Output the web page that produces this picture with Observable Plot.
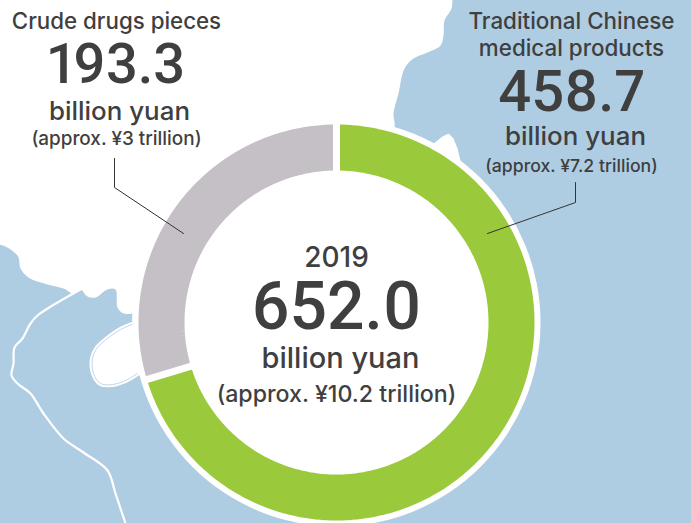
<!DOCTYPE html>
<html>
<head>
<meta charset="utf-8">
<style>html,body{margin:0;padding:0;background:#fff}svg{display:block}
.nums text{font-feature-settings:"pnum" 1;font-variant-numeric:proportional-nums}</style>
<script src="https://cdn.jsdelivr.net/npm/d3@7"></script>
<script src="https://cdn.jsdelivr.net/npm/@observablehq/plot@0.6"></script>
</head>
<body>
<script>
// Donut data
const sliceNames = ["Traditional Chinese medical products", "Crude drugs pieces"];
const sliceValues = [458.7, 193.3];
const sliceColors = ["#9aca3c", "#c5bfc6"];

// Map outline
const seaX = [452,452,451,444,443,440,427,413,404,398,393,394,336,140,132,132,132,123,117,115,107,95,87,80,73,63,47,28,20,17,-5,-5,-5,696,696,696,452];
const seaY = [-5,-5,8,20,35,45,52,58,68,93,113,127,322,373,330,313,313,313,307,289,289,297,296,289,293,288,284,277,268,255,245,528,528,528,-5,-5,-5];
const islandX = [433,442,448,453,457,460,440];
const islandY = [143,136,133,138,148,160,170];
const lakeX = [134,120,107,97,92,93,100,112,125,137];
const lakeY = [323,329,338,347,358,373,383,384,380,373];
const riverX = [80,37,30,22,14,13,11,17,30,43,63,83,107,115,125];
const riverY = [289,315,323,338,347,363,375,383,393,413,438,452,470,493,523];

// Leader lines
const leaderNames = ["a","a","a","b","b","b"];
const leaderX = [114,114,183,575,575,487];
const leaderY = [158,187,233,182,202,233];

// Text
const wordText = ["Crude drugs pieces","billion yuan","(approx. ¥3 trillion)",
  "Traditional Chinese","medical products","billion yuan","(approx. ¥7.2 trillion)",
  "2019","billion yuan","(approx. ¥10.2 trillion)"];
const wordX = [116,119,116,571,571,575,571,336,340,336];
const wordY = [28,119,144,28,55,144,171,266,367,401];
const wordSize = [22.3,25.9,18.9,22.4,22.4,25.9,17.7,28,29,23.2];
const numText = ["193.3","458.7","652.0"];
const numX = [116,571,336];
const numY = [82,110,328];
const numSize = [56,58,66];

const cx = 336, cy = 322, rOuter = 198, rInner = 152;
const rMid = (rOuter + rInner) / 2;
const total = d3.sum(sliceValues);
const polar = (deg, r) => ({x: cx + r * Math.sin(deg * Math.PI / 180), y: cy - r * Math.cos(deg * Math.PI / 180)});

let acc = 0;
const ringPts = [], seps = [];
sliceValues.forEach((v, i) => {
  const a0 = acc / total * 360, a1 = (acc + v) / total * 360;
  for (let a = a0; ; a += 1.5) {
    const t = Math.min(a, a1);
    ringPts.push({...polar(t, rMid), name: sliceNames[i]});
    if (a >= a1) break;
  }
  const p = polar(a0, rInner - 3), q = polar(a0, rOuter + 3);
  seps.push({x1: p.x, y1: p.y, x2: q.x, y2: q.y});
  acc += v;
});

const pts = (xs, ys) => xs.map((x, i) => ({x, y: ys[i]}));
const textRows = (ts, xs, ys, ss) => ts.map((t, i) => ({t, x: xs[i], y: ys[i], s: ss[i]}));
const textStyle = {x: "x", y: "y", text: "t", fontSize: "s", textAnchor: "middle", lineAnchor: "bottom", fill: "#3f3f3f", fontWeight: 500};

const chart = Plot.plot({
  width: 691, height: 523,
  margin: 0,
  x: {domain: [0, 691], range: [0, 691], axis: null},
  y: {domain: [0, 523], range: [0, 523], axis: null},
  color: {domain: sliceNames, range: sliceColors},
  style: {background: "#fff"},
  marks: [
    Plot.line(pts(seaX, seaY), {x: "x", y: "y", fill: "#aecde3", stroke: "none", curve: "catmull-rom"}),
    Plot.line(pts(islandX, islandY), {x: "x", y: "y", fill: "#fff", stroke: "none"}),
    Plot.line(pts(lakeX, lakeY), {x: "x", y: "y", fill: "#fff", stroke: "#fff", strokeWidth: 5, curve: "catmull-rom"}),
    Plot.line(pts(lakeX, lakeY), {x: "x", y: "y", stroke: "#aecde3", strokeWidth: 0.8, curve: "catmull-rom"}),
    Plot.line(pts(riverX, riverY), {x: "x", y: "y", stroke: "#fff", strokeWidth: 2.2, curve: "catmull-rom"}),
    Plot.dot([{x: cx, y: cy}], {x: "x", y: "y", r: 204, fill: "#fff", stroke: "none"}),
    Plot.line(ringPts, {x: "x", y: "y", z: "name", stroke: "name", strokeWidth: rOuter - rInner, strokeLinecap: "butt", strokeLinejoin: "round"}),
    Plot.link(seps, {x1: "x1", y1: "y1", x2: "x2", y2: "y2", stroke: "#fff", strokeWidth: 7}),
    Plot.line(leaderX.map((x, i) => ({x, y: leaderY[i], k: leaderNames[i]})), {x: "x", y: "y", z: "k", stroke: "#333", strokeWidth: 1}),
    Plot.text(textRows(wordText, wordX, wordY, wordSize), {...textStyle, fontFamily: "Inter, 'Liberation Sans', sans-serif"}),
    Plot.text(textRows(numText, numX, numY, numSize), {...textStyle, fontFamily: "Roboto, sans-serif", className: "nums"})
  ]
});
document.body.appendChild(chart);
</script>
</body>
</html>
